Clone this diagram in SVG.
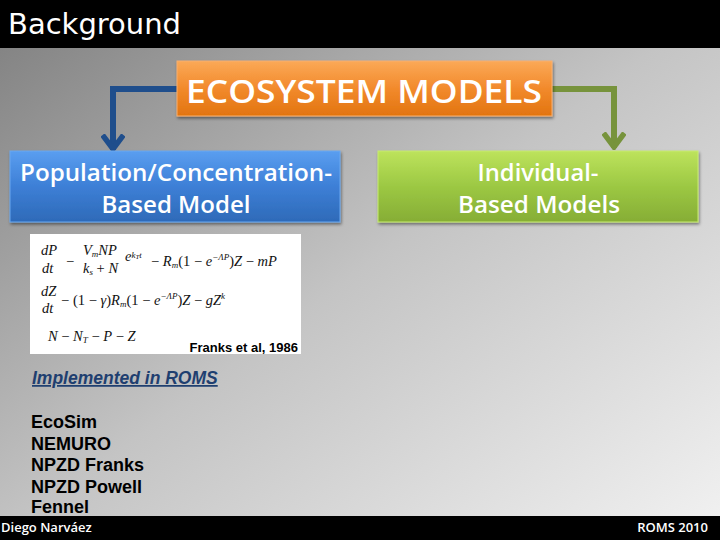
<svg xmlns="http://www.w3.org/2000/svg" width="720" height="540" viewBox="0 0 720 540">
<defs>
  <linearGradient id="bg" x1="0" y1="0" x2="1" y2="1">
    <stop offset="0" stop-color="#7e7e7e"/>
    <stop offset="0.5" stop-color="#c4c4c4"/>
    <stop offset="1" stop-color="#f2f2f2"/>
  </linearGradient>
  <linearGradient id="gOrange" x1="0" y1="0" x2="0" y2="1">
    <stop offset="0" stop-color="#fba957"/>
    <stop offset="0.5" stop-color="#f28a2c"/>
    <stop offset="1" stop-color="#e2740f"/>
  </linearGradient>
  <linearGradient id="gBlue" x1="0" y1="0" x2="0" y2="1">
    <stop offset="0" stop-color="#5a9ef0"/>
    <stop offset="0.5" stop-color="#3d7fd6"/>
    <stop offset="1" stop-color="#2e6ab8"/>
  </linearGradient>
  <linearGradient id="gGreen" x1="0" y1="0" x2="0" y2="1">
    <stop offset="0" stop-color="#bde35c"/>
    <stop offset="0.5" stop-color="#9cc843"/>
    <stop offset="1" stop-color="#86ad35"/>
  </linearGradient>
  <filter id="sh" x="-10%" y="-20%" width="120%" height="150%">
    <feDropShadow dx="1" dy="2" stdDeviation="1.5" flood-color="#000" flood-opacity="0.45"/>
  </filter>
  <marker id="ahBlue" viewBox="0 0 18 24" refX="16" refY="12" markerWidth="18" markerHeight="24" markerUnits="userSpaceOnUse" orient="auto">
    <path d="M1,1.5 L15,12 L1,22.5" fill="none" stroke="#1f4e8c" stroke-width="5.5"/>
  </marker>
  <marker id="ahGreen" viewBox="0 0 18 24" refX="16" refY="12" markerWidth="18" markerHeight="24" markerUnits="userSpaceOnUse" orient="auto">
    <path d="M1,1.5 L15,12 L1,22.5" fill="none" stroke="#77933c" stroke-width="5.5"/>
  </marker>
  <style>
    .box { stroke-width: 1; }
    .cal { font-family: "Open Sans", "Noto Sans", "Liberation Sans", sans-serif; fill: #ffffff; }
    .eq { font-family: "Liberation Serif", "DejaVu Serif", serif; font-style: italic; font-size: 14.5px; fill: #111; }
    .n { font-style: normal; }
    .sub { font-size: 9px; }
    .list { font-family: "Liberation Sans", Arial, sans-serif; font-weight: bold; font-size: 18px; fill: #000; }
    .foot { font-family: "Open Sans", "Noto Sans", sans-serif; font-weight: 600; font-size: 13px; fill: #ffffff; }
    .conn { fill: none; stroke-width: 6; stroke-linejoin: miter; }
  </style>
</defs>

<rect x="0" y="0" width="720" height="540" fill="url(#bg)"/>

<g id="header">
  <rect x="0" y="0" width="720" height="48" fill="#000"/>
  <text x="8" y="34" font-family="'DejaVu Sans', sans-serif" font-size="29" fill="#fff">Background</text>
</g>

<g id="connectors">
  <path class="conn" d="M178,89 H113 V150" stroke="#1f4e8c" marker-end="url(#ahBlue)"/>
  <path class="conn" d="M552,89 H614 V148" stroke="#77933c" marker-end="url(#ahGreen)"/>
</g>

<g id="ecosystem-models">
  <rect x="177" y="61" width="375" height="55" fill="url(#gOrange)" stroke="#f8b070" class="box" filter="url(#sh)"/>
  <text class="cal" x="364" y="103" font-size="33" font-weight="600" text-anchor="middle" textLength="356" lengthAdjust="spacingAndGlyphs">ECOSYSTEM  MODELS</text>
</g>

<g id="population-model">
  <rect x="10" y="151" width="330" height="71" fill="url(#gBlue)" stroke="#6aa8f0" class="box" filter="url(#sh)"/>
  <text class="cal" x="176" y="181" font-size="23" font-weight="600" text-anchor="middle" textLength="312" lengthAdjust="spacingAndGlyphs">Population/Concentration-</text>
  <text class="cal" x="176" y="213" font-size="23" font-weight="600" text-anchor="middle" textLength="149" lengthAdjust="spacingAndGlyphs">Based Model</text>
</g>

<g id="individual-models">
  <rect x="378" y="151" width="320" height="71" fill="url(#gGreen)" stroke="#c8ec70" class="box" filter="url(#sh)"/>
  <text class="cal" x="538" y="181" font-size="23" font-weight="600" text-anchor="middle" textLength="121" lengthAdjust="spacingAndGlyphs">Individual-</text>
  <text class="cal" x="539" y="213" font-size="23" font-weight="600" text-anchor="middle" textLength="162" lengthAdjust="spacingAndGlyphs">Based Models</text>
</g>

<g id="equations">
  <rect x="30" y="234" width="271" height="120" fill="#fff"/>
  <!-- line 1 -->
  <text class="eq" x="41" y="255">dP</text>
  <text class="eq" x="42" y="273">dt</text>
  <text class="eq n" x="66" y="266">−</text>
  <text class="eq" x="83" y="255">V<tspan class="sub" dy="2">m</tspan><tspan dy="-2">NP</tspan></text>
  <text class="eq" x="83" y="273">k<tspan class="sub" dy="2">s</tspan><tspan dy="-2" class="n"> + </tspan>N</text>
  <text class="eq" x="125" y="261" font-size="10">e<tspan class="sub" dy="-3">k<tspan font-size="7" dy="1">T</tspan><tspan dy="-1">t</tspan></tspan></text>
  <text class="eq" x="151" y="266"><tspan class="n">− </tspan>R<tspan class="sub" dy="2">m</tspan><tspan dy="-2" class="n">(1 − </tspan>e<tspan class="sub" dy="-6">−ΛP</tspan><tspan dy="6" class="n">)</tspan>Z<tspan class="n"> − </tspan>mP</text>
  <!-- line 2 -->
  <text class="eq" x="41" y="296">dZ</text>
  <text class="eq" x="42" y="313">dt</text>
  <text class="eq n" x="61" y="305">−</text>
  <text class="eq" x="73" y="305" font-size="14"><tspan class="n">(1 − </tspan>γ<tspan class="n">)</tspan>R<tspan class="sub" dy="2">m</tspan><tspan dy="-2" class="n">(1 − </tspan>e<tspan class="sub" dy="-6">−ΛP</tspan><tspan dy="6" class="n">)</tspan>Z<tspan class="n"> − </tspan>gZ<tspan class="sub" dy="-6">k</tspan></text>
  <!-- line 3 -->
  <text class="eq" x="48" y="341">N<tspan class="n">   −   </tspan>N<tspan class="sub" dy="2">T</tspan><tspan dy="-2" class="n"> − </tspan>P<tspan class="n"> − </tspan>Z</text>
  <text x="298" y="352" text-anchor="end" font-family="'Liberation Sans', Arial, sans-serif" font-weight="bold" font-size="13" fill="#000">Franks et al, 1986</text>
</g>

<g id="implemented">
  <text x="32" y="384" font-family="'Liberation Sans', Arial, sans-serif" font-weight="bold" font-style="italic" font-size="17.5" fill="#1f3f70" text-decoration="underline">Implemented in ROMS</text>
  <text class="list" x="31" y="428">EcoSim</text>
  <text class="list" x="31" y="450">NEMURO</text>
  <text class="list" x="31" y="471">NPZD Franks</text>
  <text class="list" x="31" y="493">NPZD Powell</text>
  <text class="list" x="31" y="513">Fennel</text>
</g>

<g id="footer">
  <rect x="0" y="516" width="720" height="24" fill="#000"/>
  <text class="foot" x="1" y="532">Diego Narváez</text>
  <text class="foot" x="708" y="532" text-anchor="end">ROMS 2010</text>
</g>
</svg>
